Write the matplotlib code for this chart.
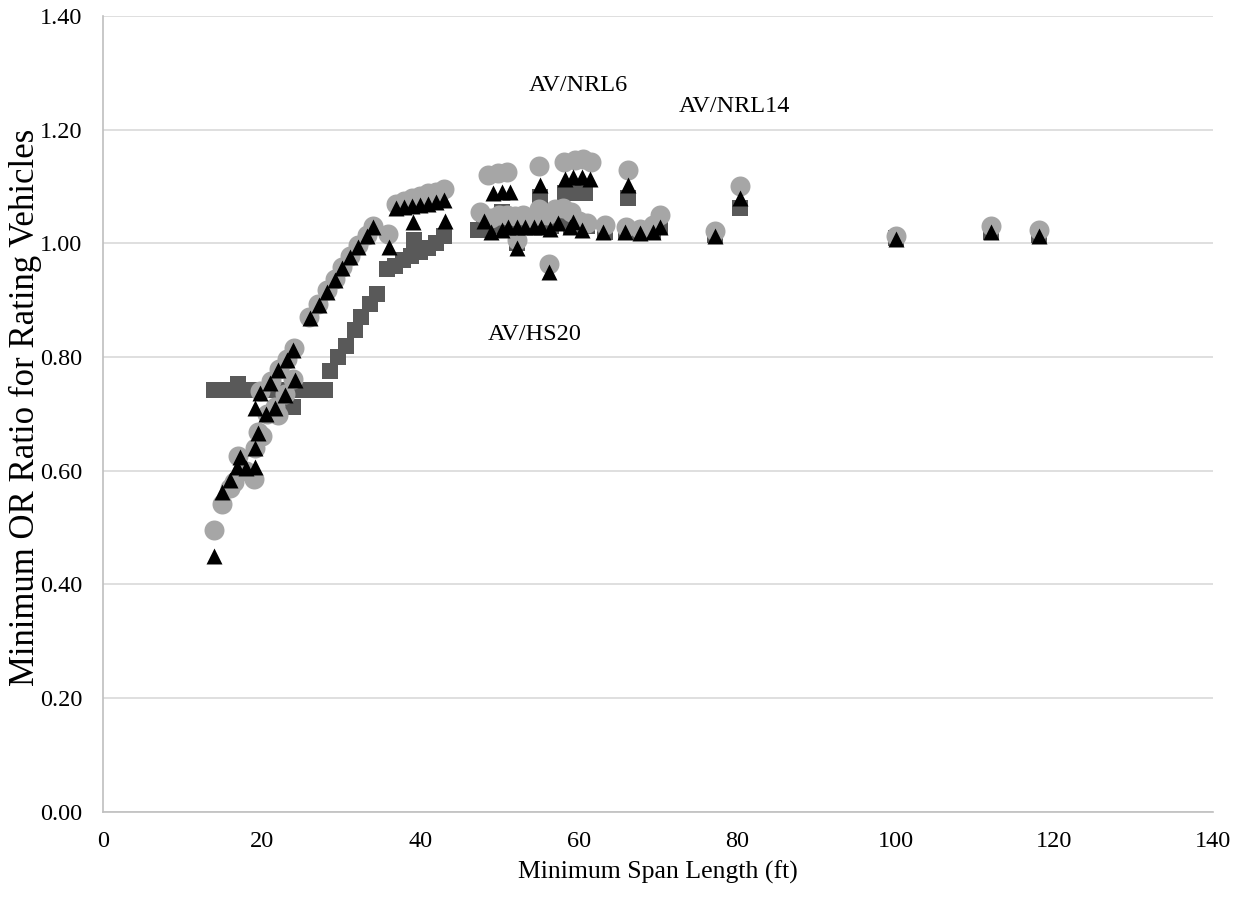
import numpy as np
import matplotlib
matplotlib.use('Agg')
import matplotlib.pyplot as plt

# AV/NRL6 (light grey circles)
nrl6_span = [14.0, 15.0, 16.0, 16.5, 17.0, 18.0, 19.0, 19.2, 19.5, 20.0, 19.8, 20.7, 21.2, 21.7,
             22.1, 22.2, 22.9, 23.2, 24.0, 24.1, 26.0, 27.1, 28.2, 29.3, 30.1, 31.1, 32.2, 33.3,
             34.1, 36.0, 37.0, 38.0, 39.0, 40.0, 41.0, 42.0, 43.0, 47.5, 48.5, 49.8, 51.0,
             49.0, 50.0, 51.0, 52.0, 53.0, 54.0, 55.0, 56.0, 57.0, 58.0, 59.0, 60.0, 61.0,
             52.2, 55.0, 56.2, 58.2, 59.5, 60.5, 61.5, 63.3, 66.0, 66.2, 67.7, 69.4, 70.2,
             77.2, 80.3, 100.0, 112.0, 118.0]
nrl6_ratio = [0.495, 0.542, 0.570, 0.580, 0.625, 0.600, 0.586, 0.640, 0.668, 0.660, 0.740, 0.700,
              0.758, 0.712, 0.698, 0.778, 0.735, 0.797, 0.762, 0.815, 0.870, 0.893, 0.917, 0.938,
              0.958, 0.978, 0.997, 1.014, 1.030, 1.017, 1.070, 1.075, 1.080, 1.084, 1.088, 1.091,
              1.095, 1.055, 1.120, 1.123, 1.126,
              1.045, 1.050, 1.050, 1.048, 1.050, 1.045, 1.060, 1.050, 1.060, 1.062, 1.055, 1.040, 1.035,
              1.005, 1.136, 0.963, 1.143, 1.147, 1.148, 1.143, 1.032, 1.029, 1.129, 1.026, 1.032, 1.049,
              1.022, 1.100, 1.013, 1.030, 1.023]

# AV/HS20 (dark grey squares)
hs20_span = [14, 15, 16, 17, 18, 19, 20, 21, 22, 23, 24, 24.5, 25, 26, 27, 28,
             28.6, 29.7, 30.7, 31.8, 32.6, 33.7, 34.5,
             35.8, 36.8, 37.8, 38.8, 39.2, 40.0, 41.0, 42.0, 43.0,
             47.3, 48.0, 49.0, 50.0, 50.3, 51.0, 52.2, 53.0, 54.0, 55.1, 55.5, 56.5, 57.5,
             58.3, 59.0, 59.5, 60.8, 61.0, 63.3, 66.0, 66.2, 67.7, 69.4, 70.2, 77.2, 80.3,
             100, 112, 118]
hs20_ratio = [0.742, 0.742, 0.742, 0.752, 0.742, 0.742, 0.742, 0.742, 0.742, 0.742, 0.712, 0.742,
              0.742, 0.742, 0.742, 0.742,
              0.775, 0.800, 0.820, 0.847, 0.871, 0.894, 0.910,
              0.955, 0.960, 0.970, 0.978, 1.005, 0.985, 0.992, 1.000, 1.012,
              1.023, 1.025, 1.030, 1.030, 1.055, 1.030, 1.000, 1.030, 1.030, 1.082, 1.030, 1.030,
              1.035, 1.088, 1.030, 1.088, 1.088, 1.030, 1.020, 1.020, 1.079, 1.020, 1.020, 1.030,
              1.015, 1.062, 1.010, 1.020, 1.015]

# AV/NRL14 (black triangles)
nrl14_span = [14.0, 15.0, 16.0, 16.9, 17.3, 18.0, 19.2, 19.2, 19.6, 19.2, 19.8, 20.6, 21.1, 21.7,
              22.1, 22.9, 23.2, 24.2, 24.0, 26.1, 27.2, 28.2, 29.3, 30.1, 31.1, 32.2, 33.3, 34.1,
              36.1, 37.0, 38.0, 39.0, 40.0, 41.0, 42.0, 43.0, 39.1, 43.1,
              48.0, 49.0, 49.2, 50.3, 51.3, 50.3, 51.1, 52.2, 52.2, 53.2, 54.3, 55.1, 55.3, 56.2,
              56.4, 57.4, 58.3, 58.9, 59.3, 59.3, 60.4, 60.4, 61.4, 63.1, 65.8, 66.2, 67.7, 69.4,
              70.2, 77.2, 80.3, 100.0, 112.0, 118.0]
nrl14_ratio = [0.449, 0.562, 0.583, 0.607, 0.624, 0.605, 0.607, 0.639, 0.666, 0.710, 0.736, 0.700,
               0.754, 0.710, 0.777, 0.733, 0.795, 0.759, 0.812, 0.868, 0.891, 0.915, 0.935, 0.956,
               0.976, 0.994, 1.012, 1.029, 0.994, 1.062, 1.064, 1.066, 1.068, 1.070, 1.073, 1.076,
               1.038, 1.040,
               1.040, 1.020, 1.088, 1.091, 1.091, 1.023, 1.029, 1.029, 0.991, 1.029, 1.029, 1.103,
               1.029, 0.950, 1.026, 1.035, 1.114, 1.029, 1.117, 1.038, 1.117, 1.023, 1.114, 1.020,
               1.020, 1.103, 1.018, 1.020, 1.029, 1.012, 1.079, 1.008, 1.020, 1.013]

plt.rcParams['font.family'] = ['Liberation Serif', 'DejaVu Serif']
plt.rcParams['font.size'] = 17.5

fig = plt.figure(figsize=(12.5, 8.98), dpi=100)
ax = fig.add_axes([0.0824, 0.0963, 0.888, 0.8859])

ax.scatter(hs20_span, hs20_ratio, marker='s', s=12.2**2, color='#595959', linewidths=0, zorder=3)
ax.scatter(nrl6_span, nrl6_ratio, marker='o', s=14.4**2, color='#a6a6a6', linewidths=0, zorder=4)
ax.scatter(nrl14_span, nrl14_ratio, marker='^', s=11.5**2, color='black', linewidths=0, zorder=5)

ax.text(59.9, 1.277, 'AV/NRL6', ha='center', va='center')
ax.text(79.7, 1.24, 'AV/NRL14', ha='center', va='center')
ax.text(54.4, 0.839, 'AV/HS20', ha='center', va='center')

ax.set_xlim(0, 140)
ax.set_ylim(0, 1.4)
ax.set_xticks(np.arange(0, 141, 20))
ax.set_yticks(np.arange(0, 1.41, 0.2))
ax.set_yticklabels(['%.2f' % v for v in np.arange(0, 1.41, 0.2)])
ax.grid(axis='y', color='#d9d9d9', linewidth=1.2, zorder=0)
ax.set_axisbelow(True)
ax.tick_params(length=0, pad=14)
ax.tick_params(axis='y', pad=15)
for side in ['top', 'right']:
    ax.spines[side].set_visible(False)
for side in ['left', 'bottom']:
    ax.spines[side].set_color('#bfbfbf')
    ax.spines[side].set_linewidth(1.2)

ax.set_xlabel('Minimum Span Length (ft)', fontsize=18.5)
ax.set_ylabel('Minimum OR Ratio for Rating Vehicles', fontsize=25)
ax.xaxis.set_label_coords(0.5, -0.062)
ax.yaxis.set_label_coords(-0.055, 0.508)

fig.savefig('out.png', dpi=100)
